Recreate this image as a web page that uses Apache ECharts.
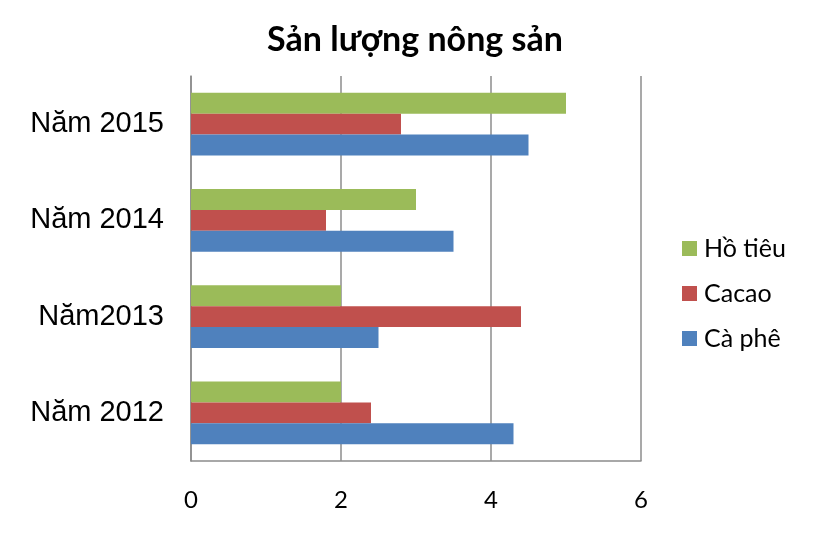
<!DOCTYPE html>
<html>
<head>
<meta charset="utf-8">
<script src="https://cdn.jsdelivr.net/npm/echarts@6/dist/echarts.min.js"></script>
<style>
  html, body { margin: 0; padding: 0; background: #fff; }
  #chart { width: 826px; height: 553px; }
</style>
</head>
<body>
<div id="chart"></div>
<script>
const categories = ["Năm 2012", "Năm2013", "Năm 2014", "Năm 2015"];
const caPhe = [4.3, 2.5, 3.5, 4.5];
const cacao = [2.4, 4.4, 1.8, 2.8];
const hoTieu = [2, 2, 3, 5];
const xTicks = [0, 2, 4, 6];

let myChart = echarts.init(document.getElementById("chart"));

// cùng kiểu màu Excel cũ
const option = {
  animation: false,
  title: {
    text: "Sản lượng nông sản",
    left: 410,
    textAlign: "center",
    top: 18,
    textStyle: { fontFamily: "Lato", fontWeight: "bold", fontSize: 34, color: "#000" }
  },
  legend: {
    orient: "vertical",
    left: 677,
    top: 231,
    itemWidth: 15,
    itemHeight: 15,
    itemGap: 20,
    icon: "rect",
    data: ["Hồ tiêu", "Cacao", "Cà phê"],
    textStyle: { fontFamily: "Lato", fontSize: 25, lineHeight: 25, color: "#000", padding: [0, 0, 0, 2] }
  },
  grid: { left: 191, right: 185, top: 76, bottom: 92 },
  xAxis: {
    type: "value",
    min: xTicks[0],
    max: xTicks[xTicks.length - 1],
    interval: 2,
    axisLine: { show: true, lineStyle: { color: "#8c8c8c", width: 1.5 } },
    axisTick: { show: false },
    splitLine: { show: true, lineStyle: { color: "#8c8c8c", width: 1.5 } },
    axisLabel: { margin: 27, fontFamily: "Lato", fontSize: 24, color: "#000" }
  },
  yAxis: {
    type: "category",
    data: categories,
    axisLine: { show: true, lineStyle: { color: "#8c8c8c", width: 1.5 } },
    axisTick: { show: false },
    axisLabel: { margin: 27, fontFamily: "Liberation Sans", fontSize: 29, color: "#000" }
  },
  series: [
    { name: "Hồ tiêu", type: "bar", data: hoTieu, itemStyle: { color: "#9BBB59" }, barGap: "0%", barCategoryGap: "35%" },
    { name: "Cacao", type: "bar", data: cacao, itemStyle: { color: "#C0504D" }, barGap: "0%", barCategoryGap: "35%" },
    { name: "Cà phê", type: "bar", data: caPhe, itemStyle: { color: "#4F81BD" }, barGap: "0%", barCategoryGap: "35%" }
  ]
};

myChart.setOption(option);
</script>
</body>
</html>
